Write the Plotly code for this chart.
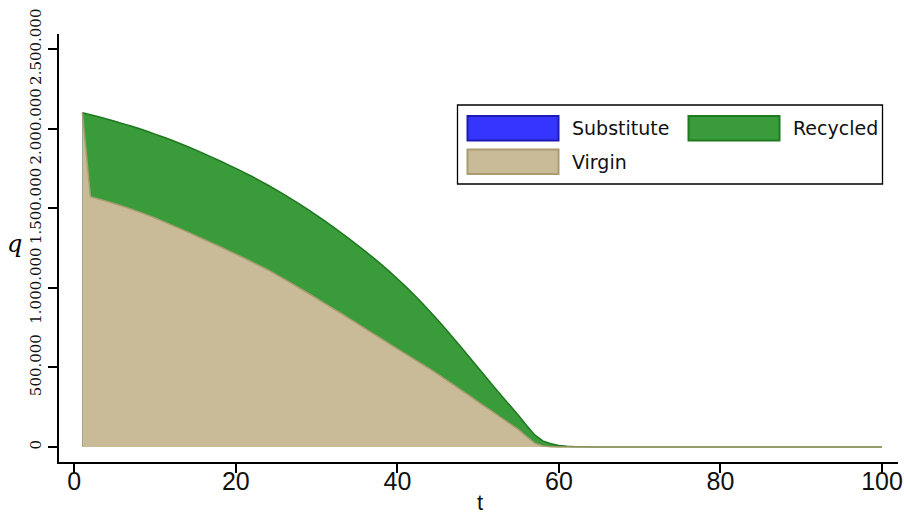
import plotly.graph_objects as go

# ---- data ----
t = list(range(1, 101))

virgin = [2100000, 1572000, 1558000, 1543000, 1528000, 1512000, 1495000, 1477000, 1458000, 1438000,
          1417000, 1395000, 1373000, 1351000, 1328000, 1305000, 1282000, 1259000, 1235000, 1211000,
          1187000, 1162000, 1137000, 1112000, 1083000, 1054000, 1024000, 994000, 964000, 933000,
          902000, 871000, 840000, 808000, 776000, 744000, 712000, 680000, 648000, 616000,
          585000, 554000, 522000, 490000, 457000, 423000, 389000, 354000, 319000, 284000,
          249000, 214000, 179000, 144000, 109000, 66000, 25000, 6000, 2000, 0,
          0, 0, 0, 0, 0, 0, 0, 0, 0, 0,
          0, 0, 0, 0, 0, 0, 0, 0, 0, 0,
          0, 0, 0, 0, 0, 0, 0, 0, 0, 0,
          0, 0, 0, 0, 0, 0, 0, 0, 0, 0]

recycled = [0, 515000, 516000, 517000, 518000, 519000, 521000, 523000, 525000, 527000,
            530000, 533000, 535000, 536000, 538000, 539000, 539000, 539000, 539000, 539000,
            538000, 537000, 535000, 532000, 532000, 531000, 530000, 528000, 525000, 522000,
            518000, 513000, 507000, 501000, 494000, 486000, 477000, 467000, 455000, 441000,
            424000, 405000, 385000, 363000, 340000, 316000, 291000, 266000, 240000, 214000,
            188000, 162000, 137000, 113000, 89000, 69000, 51000, 32000, 18000, 10000,
            5000, 2000, 1000, 0, 0, 0, 0, 0, 0, 0,
            0, 0, 0, 0, 0, 0, 0, 0, 0, 0,
            0, 0, 0, 0, 0, 0, 0, 0, 0, 0,
            0, 0, 0, 0, 0, 0, 0, 0, 0, 0]

substitute = [0, 0, 0, 0, 0, 0, 0, 0, 0, 0,
              0, 0, 0, 0, 0, 0, 0, 0, 0, 0,
              0, 0, 0, 0, 0, 0, 0, 0, 0, 0,
              0, 0, 0, 0, 0, 0, 0, 0, 0, 0,
              0, 0, 0, 0, 0, 0, 0, 0, 0, 0,
              0, 0, 0, 0, 0, 0, 0, 0, 0, 0,
              0, 0, 0, 0, 0, 0, 0, 0, 0, 0,
              0, 0, 0, 0, 0, 0, 0, 0, 0, 0,
              0, 0, 0, 0, 0, 0, 0, 0, 0, 0,
              0, 0, 0, 0, 0, 0, 0, 0, 0, 0]

series_names = ["Substitute", "Recycled", "Virgin"]
x_ticks = [0, 20, 40, 60, 80, 100]
y_ticks = [0, 500000, 1000000, 1500000, 2000000, 2500000]
x_title = "t"
y_title = "q"

# ---- styles ----
fills = {"Substitute": "#3535FF", "Recycled": "#3A9B3A", "Virgin": "#C9BB98"}
edges = {"Substitute": "#1C1CB4", "Recycled": "#1F7A1F", "Virgin": "#AA9C70"}

# cumulative stacks, drawn back-to-front so the lowest layer sits on top
cum_rec = [v + r for v, r in zip(virgin, recycled)]
cum_sub = [c + s for c, s in zip(cum_rec, substitute)]
layers = {"Substitute": cum_sub, "Recycled": cum_rec, "Virgin": virgin}

fig = go.Figure()
for name in series_names:
    fig.add_trace(go.Scatter(
        x=t, y=layers[name], name=name, mode="lines", fill="tozeroy",
        fillcolor=fills[name],
        line=dict(color=edges[name], width=1.5 if name != "Substitute" else 0, simplify=False),
        showlegend=False, hoverinfo="skip"))

L, R, T, B = 59, 6, 34, 52
W, H = 904, 514
pw, ph = W - L - R, H - T - B

def px(xp):
    return (xp - L) / pw

def py(yp):
    return (H - B - yp) / ph

shapes = []
annotations = []
# legend box
shapes.append(dict(type="rect", xref="paper", yref="paper",
                   x0=px(457.5), x1=px(882.5), y0=py(184), y1=py(105),
                   line=dict(color="black", width=1.3), fillcolor="white", layer="above"))
leg_pos = {"Substitute": (467.5, 116, 570, 128),
           "Recycled": (688.5, 116, 791, 128),
           "Virgin": (467.5, 149.5, 570, 162)}
for name in series_names:
    sx, sy, tx, ty = leg_pos[name]
    shapes.append(dict(type="rect", xref="paper", yref="paper",
                       x0=px(sx), x1=px(sx + 91), y0=py(sy + 24.5), y1=py(sy),
                       line=dict(color=edges[name], width=2), fillcolor=fills[name], layer="above"))
    annotations.append(dict(x=px(tx), y=py(ty), xref="paper", yref="paper", text=name,
                            showarrow=False, xanchor="left", yanchor="middle",
                            font=dict(family="DejaVu Sans", size=19, color="#111111")))

narrow = "Liberation Sans Narrow, Arial Narrow, Liberation Sans, sans-serif"

# axis titles
annotations.append(dict(x=px(14), y=py(244), xref="paper", yref="paper", text="<i>" + y_title + "</i>",
                        showarrow=False, xanchor="center", yanchor="middle",
                        font=dict(family="DejaVu Serif", size=24, color="black")))
annotations.append(dict(x=px(480), y=py(502), xref="paper", yref="paper", text=x_title,
                        showarrow=False, xanchor="center", yanchor="middle",
                        font=dict(family=narrow, size=22, color="#111111")))

fig.update_layout(
    width=W, height=H, margin=dict(l=L, r=R, t=T, b=B, autoexpand=False),
    paper_bgcolor="white", plot_bgcolor="white",
    separators=",.",
    shapes=shapes, annotations=annotations, showlegend=False,
    xaxis=dict(range=[-1.894, 101.98], tickvals=x_ticks, showgrid=False, zeroline=False,
               automargin=False,
               showline=True, linecolor="black", linewidth=1.5,
               ticks="outside", ticklen=9, tickwidth=1.5, tickcolor="black",
               ticklabelstandoff=-13,
               tickfont=dict(family=narrow, size=25, color="#111111")),
    yaxis=dict(range=[-94200, 2594000], tickvals=y_ticks, tickformat=",d", showgrid=False,
               zeroline=False, automargin=False, showline=True, linecolor="black", linewidth=1.5,
               ticks="outside", ticklen=9, tickwidth=1.5, tickcolor="black",
               tickangle=-90, ticklabelstandoff=1,
               tickfont=dict(family="DejaVu Serif", size=15, color="#111111")),
)

fig.write_html("out.html")
